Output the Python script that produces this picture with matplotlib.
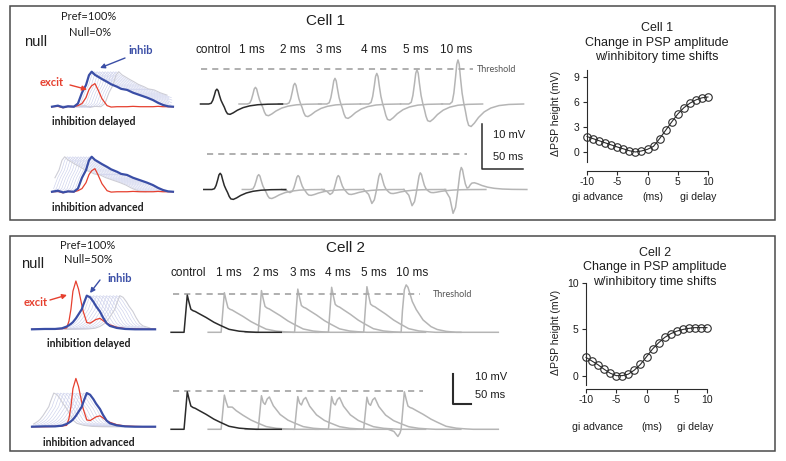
import numpy as np
import matplotlib
matplotlib.use("Agg")
import matplotlib.pyplot as plt
from matplotlib.patches import Rectangle

# ---------------- values ----------------
# right panels: change in PSP amplitude vs inhibitory time shift
gi_shift_ms = [-10, -9, -8, -7, -6, -5, -4, -3, -2, -1, 0, 1, 2, 3, 4, 5, 6, 7, 8, 9, 10]
cell1_dpsp = [1.85, 1.6, 1.35, 1.1, 0.85, 0.6, 0.38, 0.15, 0.0, 0.12, 0.32, 0.68,
              1.6, 2.6, 3.6, 4.55, 5.3, 5.85, 6.25, 6.5, 6.6]
cell2_dpsp = [2.0, 1.6, 1.2, 0.72, 0.3, 0.04, 0.04, 0.2, 0.64, 1.25, 2.07, 2.9,
              3.57, 4.14, 4.55, 4.82, 5.0, 5.12, 5.2, 5.2, 5.2]

delay_labels = ["control", "1 ms", "2 ms", "3 ms", "4 ms", "5 ms", "10 ms"]
copy_shifts_ms = [1, 2, 3, 4, 5, 6, 7, 8, 9, 10]

# left panels: conductance waveforms (relative units)
g1_t = [0, 2.2, 4.1, 5.9, 8.1, 9.6, 11.1, 12.6, 13.7, 14.7, 15.9, 17.0, 18.5, 20.4,
        21.9, 24.1, 25.6, 27.8, 30.0, 32.6, 35.2, 37.4, 39.3, 41.1, 43.0, 44.8]
g1_inh = [0, .03, -.02, .01, 0, .09, .4, .62, .9, 1, .91, .86, .79, .71,
          .64, .57, .51, .48, .4, .33, .26, .19, .11, .05, .01, 0]
g1_exc = [0, .01, -.03, .01, 0, .03, .09, .26, .49, .6, .66, .49, .23, .03,
          -.01, 0, 0, 0, .01, 0, 0, 0, .01, 0, 0, 0]
g2_t = [0, 3.9, 7.0, 9.1, 10.5, 11.2, 11.8, 12.4, 13.3, 14.1, 15.1, 15.5, 16.6,
        17.6, 18.6, 19.4, 20.6, 21.5, 22.6, 23.6, 25.7, 28.2, 31.2, 34.2, 37.3]
g2_exc = [0, 0, .01, .02, .04, .24, .59, 1.12, 1.42, 1.18, .71, .53, .2,
          .18, .24, .29, .32, .26, .18, .13, .06, .02, .01, 0, 0]
g2_inh = [0, .01, .01, .03, .08, .12, .16, .21, .32, .44, .59, .71, .99,
          .94, .81, .68, .52, .35, .18, .1, .04, .01, 0, 0, 0]

# cell 1 membrane traces: sampled shapes (ms from peak) + amplitudes (mV)
v1_t = [-20, -14, -10, -7, -5, -3, -1.5, 0, 1.5, 3, 5, 7, 9, 11, 13, 16, 20, 25, 32, 40, 50, 62, 80]
v1_spike = [0, 0, 0, .05, .25, .6, .9, 1, .9, .6, .25, .05, 0, 0, 0, 0, 0, 0, 0, 0, 0, 0, 0]
v1_after = [0, 0, 0, 0, 0, 0, 0, 0, 0, 0, 0, -.05, -.3, -.7, -.95, -1, -.85, -.6, -.35, -.18, -.07, -.02, 0]
v1_before = [0, -.35, -1, -.8, -.5, -.25, -.1, 0, 0, 0, 0, 0, 0, 0, 0, 0, 0, 0, 0, 0, 0, 0, 0]
c1_del_peak = [3.3, 3.7, 4.6, 5.7, 6.8, 7.6, 9.8]
c1_del_dip = [2.3, 2.6, 2.8, 3.2, 3.6, 3.9, 5.0]
c1_adv_peak = [3.6, 3.3, 3.1, 3.1, 3.6, 3.7, 4.9]
c1_adv_pre = [0, 0, 0.7, 1.1, 3.1, 3.6, 5.3]
c1_adv_post = [2.2, 2.0, 1.3, 1.1, 0.9, 0.7, -1.5]
c1_threshold = 7.8

# cell 2 membrane traces: sampled shapes (ms from onset) + amplitudes (mV)
v2_t = [-36, -20, -9, -3, 0, 3.6, 9, 14, 19, 25, 31, 42, 61, 83, 100, 125, 153, 180, 200, 270]
v2_main = [0, 0, 0, 0, 0, .4, 1, .8, .62, .58, .56, .5, .4, .27, .19, .08, .03, .01, 0, 0]
v2_bump = [0, 0, 0, 0, 0, 0, 0, 0, .3, .8, 1, .5, .1, 0, 0, 0, 0, 0, 0, 0]
v2_broad = [0, 0, 0, 0, 0, .45, .9, 1, .95, .8, .65, .48, .26, .12, .06, .02, 0, 0, 0, 0]
v2_pre = [0, -.3, -1, -.5, 0, 0, 0, 0, 0, 0, 0, 0, 0, 0, 0, 0, 0, 0, 0, 0]
c2_del_peak = [12.4, 13.2, 13.9, 14.4, 15.0, 15.2, 0]
c2_del_broad = [0, 0, 0, 0, 0, 0, 15.8]
c2_adv_peak = [12.5, 11.4, 11.2, 10.9, 10.9, 10.7, 12.5]
c2_adv_bump = [0, 1.0, 4.5, 4.5, 4.5, 4.5, 0]
c2_adv_pre = [0, 0, 0, 0, 0, 0, 2.4]
c2_threshold = 12.6

# ---------------- layout ----------------
plt.rcParams['font.family'] = ['Liberation Sans', 'DejaVu Sans']
plt.rcParams['axes.unicode_minus'] = False
W, H = 786, 461
fig = plt.figure(figsize=(W / 100, H / 100), dpi=100)
fig.patch.set_facecolor('white')

BLUE, RED = '#3a4ea6', '#e6402f'
GREY, DARK = '#b5b5b5', '#2b2b2b'
TXT = '#1e1e1e'


def px_axes(x0, y0, x1, y1):
    ax = fig.add_axes([x0 / W, 1 - y1 / H, (x1 - x0) / W, (y1 - y0) / H])
    ax.patch.set_visible(False)
    return ax


def scaled_axes(x0, y0, x1, y1, ppx, ppy, ox, oy):
    # data units (ms, mV ...) mapped onto a pixel box
    ax = px_axes(x0, y0, x1, y1)
    ax.set_xlim((x0 - ox) / ppx, (x1 - ox) / ppx)
    ax.set_ylim((oy - y1) / ppy, (oy - y0) / ppy)
    ax.axis('off')
    return ax


def compose(parts):
    v = 0
    for amp, shape in parts:
        v = v + amp * np.asarray(shape, float)
    return v


def draw_conductance(ax, t, exc, inh, base, direction):
    t = np.asarray(t)
    inh = np.asarray(inh)
    exc = np.asarray(exc)
    for s in copy_shifts_ms:
        ts = t + direction * s
        m = (ts >= t[0]) & (ts <= t[-1])
        last = s == copy_shifts_ms[-1]
        ax.plot(ts[m], inh[m] + base, color='#cdcdd6' if last else '#cdd1ec',
                lw=0.8 if last else 0.45, zorder=1)
    ax.plot(t, exc + base, color=RED, lw=0.9, zorder=2)
    ax.plot(t, inh + base, color=BLUE, lw=1.6, zorder=3)


# left conductance panels
axg1 = scaled_axes(15, 55, 185, 200, 2.7, 35, 52, 106.7)
draw_conductance(axg1, g1_t, g1_exc, g1_inh, 0, 1)
draw_conductance(axg1, g1_t, g1_exc, g1_inh, -2.43, -1)

axg2 = scaled_axes(15, 270, 185, 440, 3.3, 34, 32, 329.3)
draw_conductance(axg2, g2_t, g2_exc, g2_inh, 0, 1)
draw_conductance(axg2, g2_t, g2_exc, g2_inh, -2.865, -1)

# cell 1 traces (0.82 px per ms, 4.5 px per mV)
ax1 = scaled_axes(180, 40, 540, 225, 0.82, 4.5, 180, 104)
slot1 = [45, 92, 140, 189, 240, 289, 339]
row2_1 = -19.0
t1 = np.asarray(v1_t)
for k in range(len(delay_labels)):
    col, z = (DARK, 3) if k == 0 else (GREY, 2)
    v_del = compose([(c1_del_peak[k], v1_spike), (c1_del_dip[k], v1_after)])
    v_adv = compose([(c1_adv_peak[k], v1_spike), (c1_adv_post[k], v1_after),
                     (c1_adv_pre[k], v1_before)])
    ax1.plot(t1 + slot1[k], v_del, color=col, lw=1.1, zorder=z)
    ax1.plot(t1 + slot1[k] + 4, v_adv + row2_1, color=col, lw=1.1, zorder=z)
ax1.plot([25.6, 357], [c1_threshold] * 2, color='#a9a9a9', lw=1.3, dashes=(3.4, 2.8))
ax1.plot([33, 350], [row2_1 + c1_threshold] * 2, color='#a9a9a9', lw=1.3, dashes=(3.4, 2.8))
ax1.plot([368.3, 368.3, 418.3], [-4.44, -14.44, -14.44], color=DARK, lw=1.1)

# cell 2 traces (0.36 px per ms, 3 px per mV)
ax2 = scaled_axes(170, 280, 540, 445, 0.36, 3.0, 170, 332.3)
slot2 = [39, 142, 245, 346, 440, 538, 642]
row2_2 = -32.33
t2 = np.asarray(v2_t)
for k in range(len(delay_labels)):
    col, z = (DARK, 3) if k == 0 else (GREY, 2)
    v_del = compose([(c2_del_peak[k], v2_main), (c2_del_broad[k], v2_broad)])
    v_adv = compose([(c2_adv_peak[k], v2_main), (c2_adv_bump[k], v2_bump),
                     (c2_adv_pre[k], v2_pre)])
    ax2.plot(t2 + slot2[k], v_del, color=col, lw=1.1, zorder=z)
    ax2.plot(t2 + slot2[k], v_adv + row2_2, color=col, lw=1.1, zorder=z)
ax2.plot([8, 694], [c2_threshold] * 2, color='#a9a9a9', lw=1.3, dashes=(3.4, 2.8))
ax2.plot([8, 703], [row2_2 + c2_threshold] * 2, color='#a9a9a9', lw=1.3, dashes=(3.4, 2.8))
ax2.plot([786, 786, 836], [-13.9, -23.9, -23.9], color=DARK, lw=1.5)


# right panels: PSP change vs shift
def psp_axes(x0, y0, x1, y1, ylim, yticks, ybounds, drop, values):
    ax = px_axes(x0, y0, x1, y1)
    ax.plot(gi_shift_ms, values, color=DARK, lw=0.8, marker='o', ms=5.4,
            mfc='none', mec=DARK, mew=0.8, clip_on=False, zorder=3)
    ax.set_xlim(-10.8, 10.8)
    ax.set_ylim(*ylim)
    for side in ('top', 'right'):
        ax.spines[side].set_visible(False)
    ax.spines['left'].set_position(('data', -10))
    ax.spines['left'].set_bounds(*ybounds)
    ax.spines['bottom'].set_position(('outward', drop))
    ax.spines['bottom'].set_bounds(-10, 10)
    for sp in ('left', 'bottom'):
        ax.spines[sp].set_linewidth(0.8)
        ax.spines[sp].set_color(DARK)
    ax.set_xticks([-10, -5, 0, 5, 10])
    ax.set_yticks(yticks)
    ax.tick_params(direction='out', length=3, width=0.8, colors=DARK,
                   labelsize=7.5, labelcolor=TXT)
    ax.tick_params(axis='x', pad=1)
    ax.tick_params(axis='y', pad=2.5)
    return ax


psp_axes(582.2, 69.5, 712.8, 162.8, (-1.3, 9.9), [0, 3, 6, 9], (-1.2, 9.8), 5.9, cell1_dpsp)
psp_axes(581.2, 280.2, 711.8, 385.3, (-1.0, 10.3), [0, 5, 10], (-1.0, 10), 2.7, cell2_dpsp)

# ---------------- overlay: boxes, text, arrows ----------------
ov = fig.add_axes([0, 0, 1, 1])
ov.set_xlim(0, W)
ov.set_ylim(H, 0)
ov.axis('off')
ov.patch.set_visible(False)

for y0, y1 in [(6, 220), (236, 451)]:
    ov.add_patch(Rectangle((10, y0), 765, y1 - y0, fill=False, ec='#4a4a4a', lw=1.1))

GILL = ['Lato', 'DejaVu Sans']


def t(x, y, s, **kw):
    kw.setdefault('ha', 'center')
    kw.setdefault('va', 'center')
    kw.setdefault('color', TXT)
    ov.text(x, y, s, **kw)


# top cell
t(326, 21, "Cell 1", fontsize=11)
for lab, x in zip(delay_labels, [213, 252, 293, 329, 374, 416, 456]):
    t(x, 50, lab, fontsize=8.5)
t(477, 69, "Threshold", ha='left', fontsize=6.5, color='#555555', family=GILL)
t(493, 135, "10 mV", ha='left', fontsize=8)
t(493, 157, "50 ms", ha='left', fontsize=8)
t(89, 17, "Pref=100%", fontsize=8, family=GILL)
t(90, 33, "Null=0%", fontsize=8, family=GILL)
t(36, 42, "null", fontsize=10.5)
t(141, 50, "inhib", fontsize=8, color=BLUE, weight='bold', family=GILL)
t(52, 82, "excit", fontsize=8, color=RED, weight='bold', family=GILL)
t(94, 121, "inhibition delayed", fontsize=7.6, weight='bold', family=GILL)
t(98, 207, "inhibition advanced", fontsize=7.6, weight='bold', family=GILL)
arrow = dict(arrowstyle='-|>', lw=1.0, mutation_scale=7, shrinkA=0, shrinkB=0)
ov.annotate('', xy=(100, 68), xytext=(125, 58), arrowprops=dict(arrow, color=BLUE))
ov.annotate('', xy=(87, 89.5), xytext=(70, 85), arrowprops=dict(arrow, color=RED))

t(657, 28, "Cell 1", fontsize=9)
t(657, 43, "Change in PSP amplitude", fontsize=9)
t(657, 57, "w/inhibitory time shifts", fontsize=9)
t(556, 113, "\u0394PSP height (mV)", fontsize=7.6, rotation=90)
t(598, 197, "gi advance", fontsize=7.6)
t(653, 197, "(ms)", fontsize=7.6)
t(698, 197, "gi delay", fontsize=7.6)

# bottom cell
t(346, 248, "Cell 2", fontsize=11)
for lab, x in zip(delay_labels, [188, 229, 266, 303, 338, 374, 412]):
    t(x, 273, lab, fontsize=8.5)
t(433, 294, "Threshold", ha='left', fontsize=6.5, color='#555555', family=GILL)
t(475, 377, "10 mV", ha='left', fontsize=8)
t(475, 395, "50 ms", ha='left', fontsize=8)
t(88, 245, "Pref=100%", fontsize=8, family=GILL)
t(88, 259, "Null=50%", fontsize=8, family=GILL)
t(33, 264, "null", fontsize=10.5)
t(120, 278, "inhib", fontsize=8, color=BLUE, weight='bold', family=GILL)
t(36, 302, "excit", fontsize=8, color=RED, weight='bold', family=GILL)
t(89, 343, "inhibition delayed", fontsize=7.6, weight='bold', family=GILL)
t(89, 442, "inhibition advanced", fontsize=7.6, weight='bold', family=GILL)
ov.annotate('', xy=(90, 293), xytext=(100, 280), arrowprops=dict(arrow, color=BLUE))
ov.annotate('', xy=(67, 295), xytext=(50, 300), arrowprops=dict(arrow, color=RED))

t(655, 253, "Cell 2", fontsize=9)
t(655, 267, "Change in PSP amplitude", fontsize=9)
t(655, 282, "w/inhibitory time shifts", fontsize=9)
t(556, 332, "\u0394PSP height (mV)", fontsize=7.6, rotation=90)
t(598, 427, "gi advance", fontsize=7.6)
t(652, 427, "(ms)", fontsize=7.6)
t(695, 427, "gi delay", fontsize=7.6)

fig.savefig("out.png", dpi=100, facecolor='white')
